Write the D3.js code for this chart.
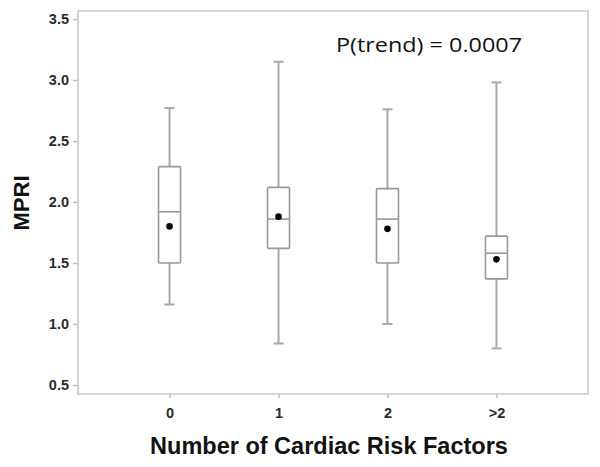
<!DOCTYPE html>
<html><head><meta charset="utf-8">
<script src="https://cdn.jsdelivr.net/npm/d3@7"></script>
<style>body{margin:0;background:#fff}</style>
</head><body>
<svg id="c" width="600" height="467"></svg>
<script>
const categories = ["0", "1", "2", ">2"];
const whiskerLow  = [1.16, 0.84, 1.00, 0.80];
const q1          = [1.50, 1.62, 1.50, 1.37];
const median      = [1.92, 1.86, 1.86, 1.58];
const q3          = [2.29, 2.12, 2.11, 1.72];
const whiskerHigh = [2.77, 3.15, 2.76, 2.98];
const mean        = [1.80, 1.88, 1.78, 1.53];
const yTicks = [0.5, 1.0, 1.5, 2.0, 2.5, 3.0, 3.5];
const annotation = "P(trend) = 0.0007";
const xTitle = "Number of Cardiac Risk Factors";
const yTitle = "MPRI";

const svg = d3.select("#c");
const L = 78, T = 11, R = 588, B = 394;
const x = d3.scaleLinear().domain([-0.84, 3.84]).range([L, R]);
const y = d3.scaleLinear().domain([0.5, 3.5]).range([385, 19]);

// frame
svg.append("rect").attr("x", L).attr("y", T).attr("width", R - L).attr("height", B - T)
  .attr("fill", "none").attr("stroke", "#c8c8c8").attr("stroke-width", 1.5);

// y axis
const ya = svg.append("g").attr("transform", `translate(${L},0)`)
  .call(d3.axisLeft(y).tickValues(yTicks).tickFormat(d3.format(".1f")).tickSize(5).tickPadding(4));
ya.select(".domain").remove();
ya.selectAll(".tick line").attr("stroke", "#c0c0c0").attr("stroke-width", 1.5);
ya.selectAll(".tick text").attr("font-family", "Liberation Sans, Arial, sans-serif")
  .attr("font-size", 14.5).attr("font-weight", "bold").attr("fill", "#2a2a2a");

// x axis
const xa = svg.append("g").attr("transform", `translate(0,${B})`)
  .call(d3.axisBottom(x).tickValues(d3.range(categories.length)).tickFormat(i => categories[i]).tickSize(4).tickPadding(10));
xa.select(".domain").remove();
xa.selectAll(".tick line").attr("stroke", "#c0c0c0").attr("stroke-width", 1.5);
xa.selectAll(".tick text").attr("font-family", "Liberation Sans, Arial, sans-serif")
  .attr("font-size", 14.5).attr("font-weight", "bold").attr("fill", "#2a2a2a");

const bw = 22, cw = 10;
const g = svg.append("g");
categories.forEach((c, i) => {
  const cx = x(i);
  const gray = "#a8a8a8";
  g.append("line").attr("x1", cx).attr("x2", cx).attr("y1", y(whiskerHigh[i])).attr("y2", y(q3[i]))
    .attr("stroke", gray).attr("stroke-width", 2);
  g.append("line").attr("x1", cx).attr("x2", cx).attr("y1", y(q1[i])).attr("y2", y(whiskerLow[i]))
    .attr("stroke", gray).attr("stroke-width", 2);
  [whiskerHigh[i], whiskerLow[i]].forEach(v => {
    g.append("line").attr("x1", cx - cw / 2).attr("x2", cx + cw / 2).attr("y1", y(v)).attr("y2", y(v))
      .attr("stroke", gray).attr("stroke-width", 2);
  });
  g.append("rect").attr("x", cx - bw / 2).attr("y", y(q3[i])).attr("width", bw)
    .attr("height", y(q1[i]) - y(q3[i])).attr("fill", "#fff").attr("stroke", "#999").attr("stroke-width", 1.6)
    .attr("rx", 1);
  g.append("line").attr("x1", cx - bw / 2).attr("x2", cx + bw / 2).attr("y1", y(median[i])).attr("y2", y(median[i]))
    .attr("stroke", "#999").attr("stroke-width", 1.6);
  g.append("circle").attr("cx", cx).attr("cy", y(mean[i])).attr("r", 3.3).attr("fill", "#000");
});

svg.append("text").attr("x", 336).attr("y", 52).text(annotation)
  .attr("font-family", "Open Sans, sans-serif").attr("font-size", 20).attr("fill", "#111")
  .attr("textLength", 186).attr("lengthAdjust", "spacingAndGlyphs");

svg.append("text").attr("x", (L + R) / 2 - 4).attr("y", 454).attr("text-anchor", "middle").text(xTitle)
  .attr("font-family", "Liberation Sans, Arial, sans-serif").attr("font-weight", "bold")
  .attr("font-size", 23.5).attr("fill", "#111");
svg.append("text").attr("transform", "translate(29,203) rotate(-90)").attr("text-anchor", "middle").text(yTitle)
  .attr("font-family", "Liberation Sans, Arial, sans-serif").attr("font-weight", "bold")
  .attr("font-size", 22).attr("fill", "#111");
</script>
</body></html>
